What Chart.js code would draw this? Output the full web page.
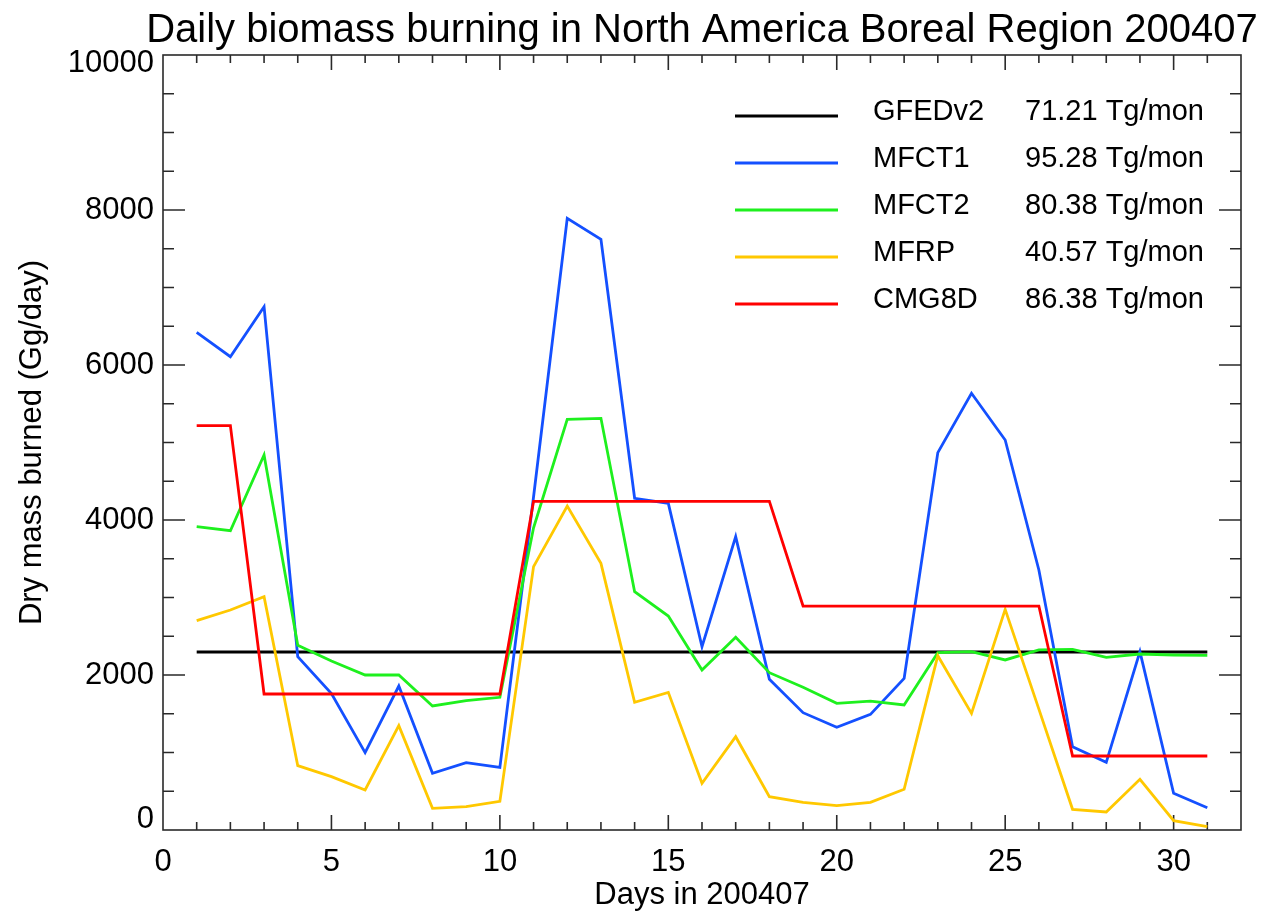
<!DOCTYPE html>
<html>
<head>
<meta charset="utf-8">
<title>Daily biomass burning</title>
<script src="https://cdn.jsdelivr.net/npm/chart.js@4.4.1/dist/chart.umd.min.js"></script>
<style>
  body { margin: 0; background: #fff; }
  canvas { display: block; }
</style>
</head>
<body>
<canvas id="burnChart" width="1263" height="917"></canvas>
<script>
// days of July 2004
const days = [1, 2, 3, 4, 5, 6, 7, 8, 9, 10, 11, 12, 13, 14, 15, 16, 17, 18, 19, 20, 21, 22, 23, 24, 25, 26, 27, 28, 29, 30, 31];

// Gg/day
const gfedv2 = [2297, 2297, 2297, 2297, 2297, 2297, 2297, 2297, 2297, 2297, 2297, 2297, 2297, 2297, 2297, 2297,
                2297, 2297, 2297, 2297, 2297, 2297, 2297, 2297, 2297, 2297, 2297, 2297, 2297, 2297, 2297];
const mfct1 = [6422, 6107, 6752, 2236, 1760, 998, 1858, 731, 869, 809, 4300, 7892, 7622, 4280, 4215, 2365,
               3785, 1944, 1514, 1325, 1492, 1957, 4869, 5635, 5032, 3355, 1075, 873, 2301, 473, 288];
const mfct2 = [3914, 3862, 4839, 2383, 2180, 2000, 2000, 1600, 1669, 1712, 3900, 5299, 5312, 3075, 2761, 2065,
               2486, 2030, 1841, 1634, 1664, 1613, 2288, 2301, 2194, 2323, 2331, 2228, 2271, 2258, 2254];
const mfrp = [2701, 2839, 3011, 830, 688, 516, 1346, 280, 301, 370, 3398, 4181, 3441, 1647, 1776, 602,
              1204, 430, 357, 314, 357, 525, 2249, 1505, 2847, 1560, 267, 232, 654, 120, 43];
const cmg8d = [5217, 5217, 1755, 1755, 1755, 1755, 1755, 1755, 1755, 1755, 4241, 4241, 4241, 4241, 4241, 4241,
               4241, 4241, 2890, 2890, 2890, 2890, 2890, 2890, 2890, 2890, 955, 955, 955, 955, 955];

const seriesNames = ['GFEDv2', 'MFCT1', 'MFCT2', 'MFRP', 'CMG8D'];
const monthlyTotals = ['71.21 Tg/mon', '95.28 Tg/mon', '80.38 Tg/mon', '40.57 Tg/mon', '86.38 Tg/mon'];

const FONT = 'Liberation Sans, Arial, sans-serif';
const titleText = 'Daily biomass burning in North America Boreal Region 200407';

function pts(vals) {
    return days.map((d, i) => ({ x: d, y: vals[i] }));
}

// box round the plot with ticks pointing in, like the IDL plot
const frameTicks = {
    id: 'frameTicks',
    beforeDatasetsDraw(chart) {
        const { ctx, chartArea: a, scales: { x, y } } = chart;
        ctx.save();
        ctx.strokeStyle = '#2a2a2a';
        ctx.lineWidth = 1.6;
        ctx.beginPath();
        for (let d = 1; d < 32; d++) {
            const px = x.getPixelForValue(d);
            const len = d % 5 === 0 ? 15 : 8;
            ctx.moveTo(px, a.bottom); ctx.lineTo(px, a.bottom - len);
            ctx.moveTo(px, a.top); ctx.lineTo(px, a.top + len);
        }
        for (let v = 500; v < 10000; v += 500) {
            const py = y.getPixelForValue(v);
            const len = v % 2000 === 0 ? 22 : 11;
            ctx.moveTo(a.left, py); ctx.lineTo(a.left + len, py);
            ctx.moveTo(a.right, py); ctx.lineTo(a.right - len, py);
        }
        ctx.stroke();
        ctx.strokeRect(a.left, a.top, a.right - a.left, a.bottom - a.top);

        // y tick labels, the end ones pulled inside the box as in the original
        ctx.fillStyle = '#000';
        ctx.font = '31px ' + FONT;
        ctx.textAlign = 'right';
        ctx.textBaseline = 'middle';
        y.ticks.forEach(t => {
            const py = Math.min(Math.max(y.getPixelForValue(t.value), a.top + 8), a.bottom - 11);
            ctx.fillText(String(t.value), a.left - 9, py);
        });
        ctx.restore();
    },
    afterDatasetsDraw(chart) {
        const { ctx, chartArea: a } = chart;
        ctx.save();
        // title
        ctx.fillStyle = '#000';
        ctx.font = '40px ' + FONT;
        ctx.textAlign = 'center';
        ctx.textBaseline = 'alphabetic';
        ctx.fillText(titleText, (a.left + a.right) / 2, 42);
        // legend inside the plot
        ctx.font = '29px ' + FONT;
        ctx.textAlign = 'left';
        chart.data.datasets.forEach((ds, i) => {
            const ly = a.top + 61 + i * 47;
            ctx.strokeStyle = ds.borderColor;
            ctx.lineWidth = ds.borderWidth;
            ctx.beginPath();
            ctx.moveTo(a.left + 572, ly);
            ctx.lineTo(a.left + 675, ly);
            ctx.stroke();
            ctx.fillStyle = '#000';
            ctx.fillText(seriesNames[i], a.left + 710, ly + 4);
            ctx.fillText(monthlyTotals[i], a.left + 862, ly + 4);
        });
        ctx.restore();
    }
};

const ctx = document.getElementById('burnChart').getContext('2d');
const myChart = new Chart(ctx, {
    type: 'line',
    data: {
        datasets: [
            { label: seriesNames[0], data: pts(gfedv2), borderColor: '#000000', borderWidth: 3, order: 5 },
            { label: seriesNames[1], data: pts(mfct1), borderColor: '#1450ff', borderWidth: 2.8, order: 4 },
            { label: seriesNames[2], data: pts(mfct2), borderColor: '#1ef01e', borderWidth: 2.8, order: 3 },
            { label: seriesNames[3], data: pts(mfrp), borderColor: '#ffc800', borderWidth: 2.8, order: 2 },
            { label: seriesNames[4], data: pts(cmg8d), borderColor: '#ff0000', borderWidth: 2.8, order: 1 }
        ]
    },
    options: {
        responsive: false,
        animation: false,
        elements: { point: { radius: 0 }, line: { tension: 0 } },
        layout: { padding: { top: 55, right: 22, left: 0, bottom: 0 } },
        plugins: { legend: { display: false }, tooltip: { enabled: false }, title: { display: false } },
        scales: {
            x: {
                type: 'linear',
                min: 0,
                max: 32,
                grid: { display: false, drawTicks: false },
                border: { display: false },
                ticks: { stepSize: 5, includeBounds: false, color: '#000', padding: 14, font: { family: FONT, size: 31 } },
                title: { display: true, text: 'Days in 200407', color: '#000', padding: { top: 0, bottom: 3 }, font: { family: FONT, size: 31 } },
                afterFit(scale) { scale.height = 87; }
            },
            y: {
                min: 0,
                max: 10000,
                grid: { display: false, drawTicks: false },
                border: { display: false },
                // labels are drawn by the frameTicks plugin
                ticks: { stepSize: 2000, display: false },
                title: { display: true, text: 'Dry mass burned (Gg/day)', color: '#000', padding: { top: 14, bottom: 0 }, font: { family: FONT, size: 31 } },
                afterFit(scale) { scale.width = 163; }
            }
        }
    },
    plugins: [frameTicks]
});
</script>
</body>
</html>
